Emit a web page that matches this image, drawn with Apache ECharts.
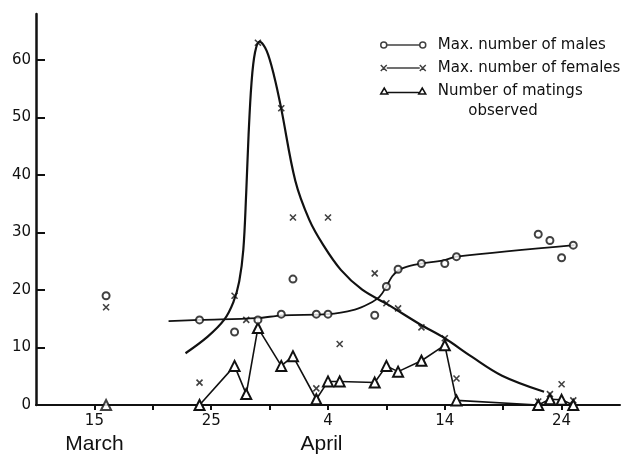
<!DOCTYPE html>
<html>
<head>
<meta charset="utf-8">
<script src="https://cdn.jsdelivr.net/npm/echarts@6/dist/echarts.min.js"></script>
<style>
  html, body { margin: 0; padding: 0; background: #fff; }
  #chart { width: 621px; height: 456px; }
</style>
</head>
<body>
<div id="chart"></div>
<script>
// Day numbers count from 1 March (so 4 April = day 35).
const tickDays   = [15, 25, 35, 45, 55];
const tickLabels = ['15', '25', '4', '14', '24'];
const monthNames = ['March', '', 'April', '', ''];
const minorTickDays = [15, 20, 25, 30, 35, 40, 45, 50, 55];
const countTicks = [0, 10, 20, 30, 40, 50, 60];

// Max. number of males seen on each day
const maleDays   = [16, 24, 27, 29, 31, 32, 34, 35, 39, 40, 41, 43, 45, 46, 53, 54, 55, 56];
const maleCounts = [19, 14.8, 12.7, 14.8, 15.8, 21.9, 15.8, 15.8, 15.6, 20.6, 23.6, 24.6, 24.6, 25.8, 29.7, 28.6, 25.6, 27.8];

// Fitted curve through the male counts
const maleFitDays   = [21.35, 24, 28.9, 31.1, 35, 37.3, 38.5, 39.4, 40.0, 40.5, 41.1, 42.0, 43, 45, 46, 56.1];
const maleFitValues = [14.6, 14.8, 15.1, 15.6, 15.8, 16.6, 17.6, 18.8, 20.6, 22.4, 23.5, 24.2, 24.6, 25.2, 25.8, 27.8];

// Max. number of females seen on each day
const femaleDays   = [16, 24, 27, 28, 29, 31, 32, 34, 35, 36, 39, 40, 41, 43, 45, 46, 53, 54, 55, 56];
const femaleCounts = [17, 3.9, 19, 14.8, 63, 51.6, 32.6, 2.9, 32.6, 10.6, 22.9, 17.7, 16.8, 13.5, 11.6, 4.6, 0.6, 1.9, 3.6, 0.8];

// Fitted curve through the female counts
const femaleFitDays   = [22.8, 24.7, 26.1, 26.9, 27.4, 27.75, 28.0, 28.2, 28.45, 28.75, 29.15, 29.75, 30.4, 31.0, 32.2, 33.4, 34.6, 36.1, 37.9, 40.1, 42.9, 45.0, 47.3, 49.9, 53.5];
const femaleFitValues = [9.0, 11.9, 14.8, 17.9, 21.5, 27.0, 37.0, 47.0, 56.0, 61.3, 63.2, 61.6, 57.1, 51.5, 39.0, 32.2, 27.8, 23.5, 20.1, 17.5, 14.0, 11.6, 8.4, 5.1, 2.3];

// Number of matings observed; the 16 March visit stands apart from the daily run
const matingDays   = [16, 24, 27, 28, 29, 31, 32, 34, 35, 36, 39, 40, 41, 43, 45, 46, 53, 54, 55, 56];
const matingCounts = [0, 0, 6.8, 1.9, 13.4, 6.8, 8.5, 1.0, 4.1, 4.1, 3.9, 6.8, 5.8, 7.7, 10.4, 0.8, 0, 1.0, 0.9, 0];
const matingRunStart = 1;

const seriesNames = ['Max. number of males', 'Max. number of females', 'Number of matings'];

const INK = '#111';
const pairs = (xs, ys) => xs.map((x, i) => [x, ys[i]]);
const CROSS = 'path://M0,0L10,10M0,10L10,0';

const chart = echarts.init(document.getElementById('chart'), null, { renderer: 'canvas' });

chart.setOption({
  animation: false,
  backgroundColor: '#fff',
  grid: { left: 36, right: 1, top: 14, bottom: 51, containLabel: false, outerBoundsMode: 'none' },
  xAxis: {
    type: 'value',
    min: 10,
    max: 60,
    splitLine: { show: false },
    axisLine: { onZero: false, lineStyle: { color: INK, width: 2 } },
    axisTick: { customValues: minorTickDays, length: 5, inside: false, lineStyle: { color: INK, width: 2 } },
    axisLabel: {
      customValues: tickDays,
      margin: 7,
      formatter: function (v) {
        const i = tickDays.indexOf(v);
        if (i < 0) return '';
        const m = monthNames[i];
        return '{n|' + tickLabels[i] + '}' + (m ? '\n{m' + i + '|' + m + '}' : '');
      },
      rich: {
        n:  { fontFamily: 'DejaVu Sans', fontSize: 15, lineHeight: 18, color: INK },
        m0: { fontFamily: 'Liberation Sans', fontSize: 21, lineHeight: 28, color: INK },
        m2: { fontFamily: 'Liberation Sans', fontSize: 21, lineHeight: 28, color: INK, padding: [0, 13, 0, 0] }
      }
    }
  },
  yAxis: {
    type: 'value',
    min: 0,
    max: 68,
    splitLine: { show: false },
    axisLine: { lineStyle: { color: INK, width: 2.5 } },
    axisTick: { customValues: countTicks.slice(1), inside: true, length: 9, lineStyle: { color: INK, width: 2 } },
    axisLabel: {
      customValues: countTicks,
      margin: 5,
      fontFamily: 'DejaVu Sans',
      fontSize: 15,
      color: INK
    }
  },
  legend: {
    orient: 'vertical',
    left: 380,
    top: 36,
    padding: 0,
    itemWidth: 45,
    itemHeight: 6,
    itemGap: 5,
    selectedMode: false,
    textStyle: { fontFamily: 'DejaVu Sans', fontSize: 15, color: INK, lineHeight: 18, padding: [0, 0, 0, 7] },
    itemStyle: { color: '#fff', borderColor: INK, borderWidth: 1.5 },
    data: [
      { name: seriesNames[0], icon: 'path://M0,3A3,3 0 1 1 6,3A3,3 0 1 1 0,3ZM6,3L39,3M39,3A3,3 0 1 1 45,3A3,3 0 1 1 39,3Z' },
      { name: seriesNames[1], icon: 'path://M0,0L6,6M0,6L6,0M6,3L39,3M39,0L45,6M39,6L45,0' },
      { name: seriesNames[2], icon: 'path://M0,6L3.5,0L7,6ZM7,4.5L38,4.5M38,6L41.5,0L45,6Z' }
    ]
  },
  graphic: [
    {
      type: 'text',
      x: 503,
      y: 111,
      style: {
        text: 'observed',
        font: '15px "DejaVu Sans"',
        fill: INK,
        align: 'center',
        verticalAlign: 'middle'
      }
    }
  ],
  series: [
    {
      name: 'males-fit',
      type: 'line',
      data: pairs(maleFitDays, maleFitValues),
      smooth: 0.35,
      showSymbol: false,
      lineStyle: { color: INK, width: 1.8 },
      z: 2
    },
    {
      name: 'females-fit',
      type: 'line',
      data: pairs(femaleFitDays, femaleFitValues),
      smooth: 0.35,
      showSymbol: false,
      lineStyle: { color: INK, width: 2.2 },
      z: 2
    },
    {
      name: seriesNames[2],
      type: 'line',
      data: pairs(matingDays.slice(matingRunStart), matingCounts.slice(matingRunStart)),
      symbol: 'emptyTriangle',
      symbolSize: 10,
      lineStyle: { color: INK, width: 1.6 },
      itemStyle: { color: INK, borderWidth: 1.6 },
      z: 3
    },
    {
      name: 'matings-early',
      type: 'scatter',
      data: pairs(matingDays.slice(0, matingRunStart), matingCounts.slice(0, matingRunStart)),
      symbol: 'emptyTriangle',
      symbolSize: 10,
      itemStyle: { color: INK, borderWidth: 1.6 },
      z: 3
    },
    {
      name: seriesNames[0],
      type: 'scatter',
      data: pairs(maleDays, maleCounts),
      symbol: 'emptyCircle',
      symbolSize: 7,
      itemStyle: { color: INK, borderWidth: 1.5 },
      z: 4
    },
    {
      name: seriesNames[1],
      type: 'scatter',
      data: pairs(femaleDays, femaleCounts),
      symbol: CROSS,
      symbolSize: 6,
      itemStyle: { color: INK, borderColor: INK, borderWidth: 1.6 },
      z: 4
    }
  ]
});
</script>
</body>
</html>
